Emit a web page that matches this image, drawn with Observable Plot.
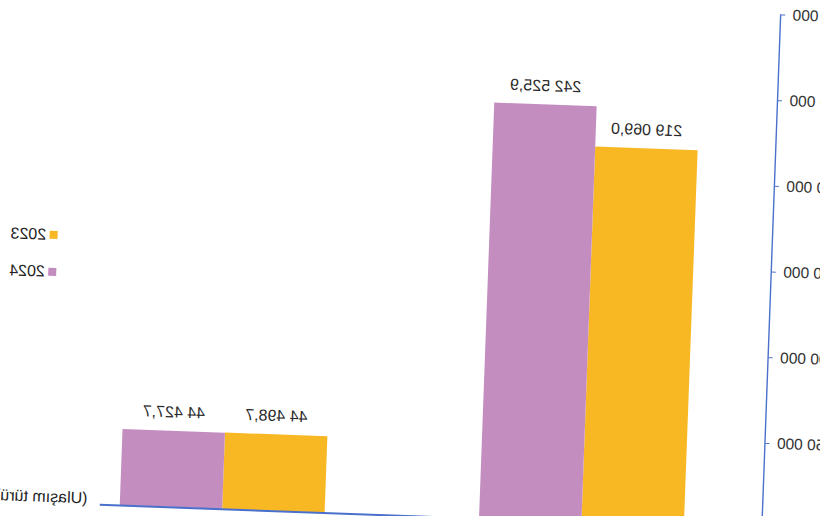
<!DOCTYPE html>
<html><head><meta charset="utf-8">
<script src="https://cdn.jsdelivr.net/npm/d3@7"></script>
<script src="https://cdn.jsdelivr.net/npm/@observablehq/plot@0.6"></script>
<style>
html,body{margin:0;padding:0;background:#fff;overflow:hidden;width:820px;height:516px;}
#stage{position:absolute;left:0;top:0;width:820px;height:516px;transform-origin:410px 258px;transform:rotate(2.1deg) scaleX(-1);font-family:"Liberation Sans",Arial,sans-serif;}
#chart{position:absolute;left:0;top:0;width:820px;}
#legend{position:absolute;left:762.5px;top:229.5px;font-size:16px;color:#222;}
.item{display:flex;align-items:center;height:37px;white-space:nowrap;}
.sw{width:8px;height:8px;margin-right:4px;}
</style></head><body>
<div id="stage"><div id="chart"></div><div id="legend"></div></div>
<script>
const categories = ["Karayolu", "Demiryolu"];
const years = ["2023", "2024"];
const values2023 = [219069.0, 44498.7];
const values2024 = [242525.9, 44427.7];
const yTicks = [0, 50000, 100000, 150000, 200000, 250000, 300000];
const colors = ["#F7B824", "#C48DC0"];
const xTitle = "(Ulaşım türü)";

const blue = "#4A70CC";
const loc = d3.formatLocale({decimal: ",", thousands: " ", grouping: [3]});
const fmt1 = loc.format(",.1f");
const fmt0 = loc.format(",d");

const d2023 = categories.map((c, i) => ({cat: c, year: years[0], value: values2023[i]}));
const d2024 = categories.map((c, i) => ({cat: c, year: years[1], value: values2024[i]}));

const half = 102.5;
const plot = Plot.plot({
  width: 820, height: 560,
  marginLeft: 48, marginRight: 109, marginTop: 1, marginBottom: 44.5,
  style: {overflow: "visible", fontFamily: "Liberation Sans, Arial, sans-serif", background: "transparent"},
  x: {domain: categories, paddingInner: 0.4298, paddingOuter: 0.137, align: 0.797, round: false},
  y: {domain: [0, 300000]},
  color: {domain: years, range: colors},
  marks: [
    Plot.barY(d2023, {x: "cat", y: "value", fill: "year", insetRight: half}),
    Plot.barY(d2024, {x: "cat", y: "value", fill: "year", insetLeft: half}),
    Plot.text(d2023, {x: "cat", y: "value", text: d => fmt1(d.value), dx: -half / 2, dy: -19, fontSize: 16, fill: "#2a2a2a"}),
    Plot.text(d2024, {x: "cat", y: "value", text: d => fmt1(d.value), dx: half / 2, dy: -19, fontSize: 16, fill: "#2a2a2a"}),
    Plot.axisY(yTicks, {tickSize: 4, tickPadding: 8, stroke: blue, fill: "#333", fontSize: 15.5, tickFormat: fmt0, label: null}),
    Plot.axisX({tickSize: 0, tickPadding: 12, fontSize: 15, fill: "#404040", label: null}),
    Plot.frame({anchor: "left", stroke: blue, strokeWidth: 1.4}),
    Plot.ruleY([0], {stroke: blue, strokeWidth: 2}),
    Plot.text([xTitle], {text: d => d, frameAnchor: "bottom-right", textAnchor: "start", dx: 12, dy: -1, fontSize: 16, fill: "#222"})
  ]
});
document.getElementById("chart").appendChild(plot);

const cs = plot.scale("color");
const lg = document.getElementById("legend");
cs.domain.forEach((k, i) => {
  const it = document.createElement("div");
  it.className = "item";
  const sw = document.createElement("div");
  sw.className = "sw";
  sw.style.background = cs.range[i];
  const t = document.createElement("span");
  t.textContent = k;
  it.appendChild(sw); it.appendChild(t);
  lg.appendChild(it);
});
</script>
</body></html>
